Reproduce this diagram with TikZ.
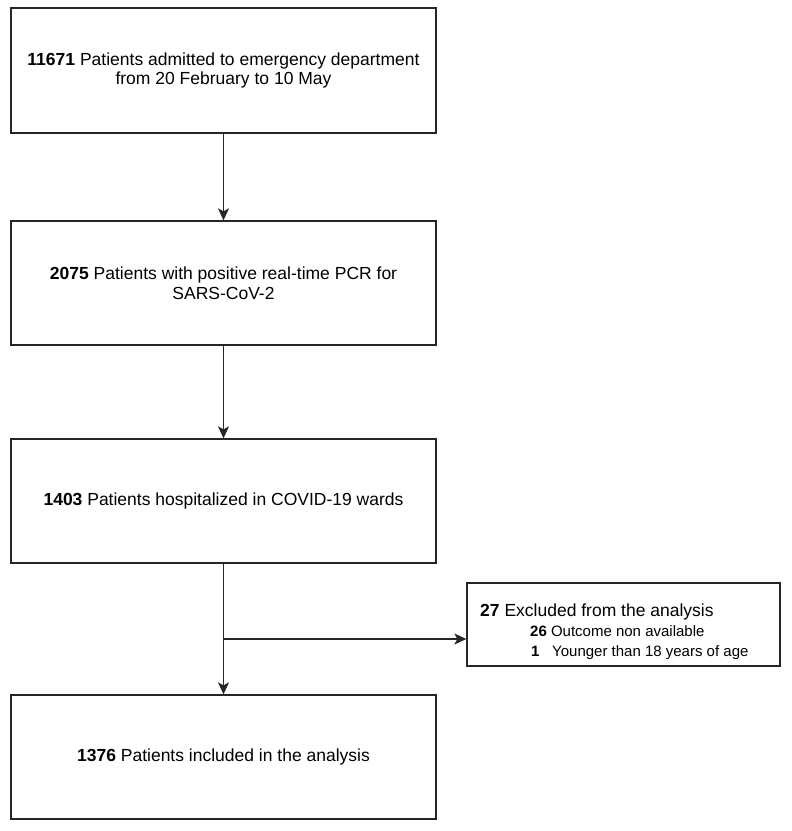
\documentclass[tikz,border=0pt]{standalone}
\usepackage{fontspec}
\setmainfont{Liberation Sans}
\usetikzlibrary{arrows.meta}
\begin{document}
\begin{tikzpicture}[x=1pt,y=-1pt,
  box/.style={draw=black!85, line width=1.3pt, rectangle, align=center, inner sep=0pt,
    font=\fontsize{17.5}{19.5}\selectfont},
  conn/.style={draw=black!85, line width=1.3pt, -{Stealth[length=12pt,width=11pt,inset=3pt]}},
  txt/.style={anchor=base west, inner sep=0pt, font=\fontsize{17.5}{19.5}\selectfont},
  subtxt/.style={anchor=base west, inner sep=0pt, font=\fontsize{15}{18}\selectfont}
]
\useasboundingbox (0,0) rectangle (792,831);
\node[box, minimum width=425pt, minimum height=125pt] (b1) at (223.5,70.5)
  {\textbf{11671} Patients admitted to emergency department\\from 20 February to 10 May};
\node[box, minimum width=425pt, minimum height=124pt] (b2) at (223.5,283)
  {\textbf{2075} Patients with positive real-time PCR for\\SARS-CoV-2};
\node[box, minimum width=425pt, minimum height=124pt] (b3) at (223.5,501)
  {\textbf{1403} Patients hospitalized in COVID-19 wards};
\node[box, minimum width=425pt, minimum height=124pt] (b4) at (223.5,757)
  {\textbf{1376} Patients included in the analysis};
\node[box, minimum width=313pt, minimum height=83pt] (ex) at (623.5,624.5) {};
\node[txt] (t1) at (480,616) {\textbf{27} Excluded from the analysis};
\node[subtxt] (t2) at (530,636) {\textbf{26} Outcome non available};
\node[subtxt] (t3) at (531,656.5) {\textbf{1}};
\node[subtxt] (t4) at (552,656.5) {Younger than 18 years of age};
\draw[conn] (b1) -- (b2);
\draw[conn] (b2) -- (b3);
\draw[conn] (b3) -- (b4);
\coordinate (br) at (223.5,639);
\draw[conn] (br) -- (ex.west |- br);
\end{tikzpicture}
\end{document}
